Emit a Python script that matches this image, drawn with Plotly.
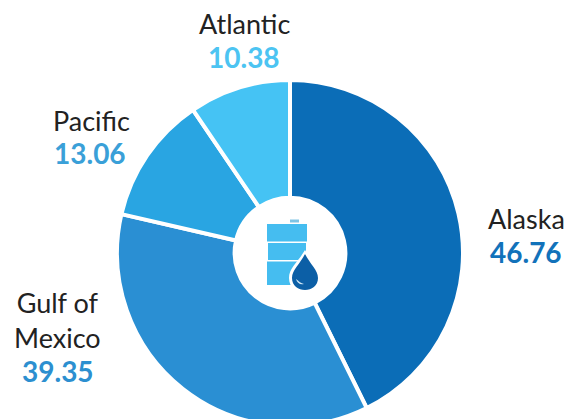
import plotly.graph_objects as go

regions = ["Alaska", "Gulf of<br>Mexico", "Pacific", "Atlantic"]
values = [46.76, 39.35, 13.06, 10.38]
slice_colors = ["#0B6DB7", "#2A8FD3", "#29A5E2", "#45C3F4"]
value_colors = ["#1272BA", "#2C8FD0", "#3AA0D8", "#4CC4F2"]

W, H = 573, 430
FONT = "Lato"

# label anchor points (pixels): name centre, value centre
name_pos = [(526, 218), (57, 320), (91, 120), (244, 23)]
value_pos = [(526, 252), (58, 371), (90, 153), (244, 57)]


def px(x):
    return x / W


def py(y):
    return 1 - y / H


def path(points):
    """Build an SVG path in paper coordinates from pixel-space commands."""
    out = []
    for cmd, *xy in points:
        coords = " ".join(
            f"{px(xy[i]):.5f},{py(xy[i + 1]):.5f}" for i in range(0, len(xy), 2)
        )
        out.append(f"{cmd} {coords}")
    return " ".join(out) + " Z"


def icon_shape(points, color):
    return dict(type="path", xref="paper", yref="paper", path=path(points),
                fillcolor=color, line=dict(width=0), layer="above")


cx, cy, r = 290, 253, 173

fig = go.Figure(go.Pie(
    labels=[t.replace("<br>", " ") for t in regions],
    values=values,
    sort=False,
    direction="clockwise",
    rotation=0,
    hole=0.32,
    textinfo="none",
    hoverinfo="label+value",
    marker=dict(colors=slice_colors, line=dict(color="white", width=4)),
    domain=dict(x=[px(cx - r), px(cx + r)], y=[py(cy + r), py(cy - r)]),
))

annotations = []
for region, value, color, npos, vpos in zip(regions, values, value_colors, name_pos, value_pos):
    annotations.append(dict(
        x=px(npos[0]), y=py(npos[1]), xref="paper", yref="paper", text=region,
        showarrow=False, xanchor="center", yanchor="middle",
        font=dict(family=FONT, size=27, color="#222222"), align="center",
    ))
    annotations.append(dict(
        x=px(vpos[0]), y=py(vpos[1]), xref="paper", yref="paper",
        text=f"<b>{value:.2f}</b>",
        showarrow=False, xanchor="center", yanchor="middle",
        font=dict(family=FONT, size=28, color=color),
    ))

barrel = "#45BDF0"
drop = "#0C5FA6"
shapes = [
    # barrel lid tab and three body sections
    icon_shape([("M", 290, 219.5), ("L", 299, 219.5), ("L", 299, 222.5), ("L", 290, 222.5)], "#7FC4E4"),
    icon_shape([("M", 267, 224), ("L", 307, 224), ("L", 307, 241.5), ("L", 267, 241.5)], barrel),
    icon_shape([("M", 268, 243), ("L", 306, 243), ("L", 306, 260), ("L", 268, 260)], barrel),
    icon_shape([("M", 267, 261.5), ("L", 307, 261.5), ("L", 307, 285), ("L", 267, 285)], barrel),
    # white halo behind the droplet, then the droplet and its highlight
    icon_shape([("M", 305, 250), ("C", 298, 262, 289, 268, 289, 278),
                ("C", 289, 298, 321, 298, 321, 278), ("C", 321, 268, 312, 262, 305, 250)], "white"),
    icon_shape([("M", 305, 254), ("C", 300, 264, 292, 270, 292, 278),
                ("C", 292, 294, 318, 294, 318, 278), ("C", 318, 270, 310, 264, 305, 254)], drop),
    icon_shape([("M", 296, 279), ("C", 297, 283, 300, 285, 304, 284),
                ("C", 300, 283, 299, 281, 296, 279)], "#CFE6F5"),
]

fig.update_layout(
    width=W, height=H,
    margin=dict(l=0, r=0, t=0, b=0),
    paper_bgcolor="white",
    showlegend=False,
    annotations=annotations,
    shapes=shapes,
)

fig.write_html("out.html", post_script="document.documentElement.style.overflow='hidden';document.body.style.overflow='hidden';")
